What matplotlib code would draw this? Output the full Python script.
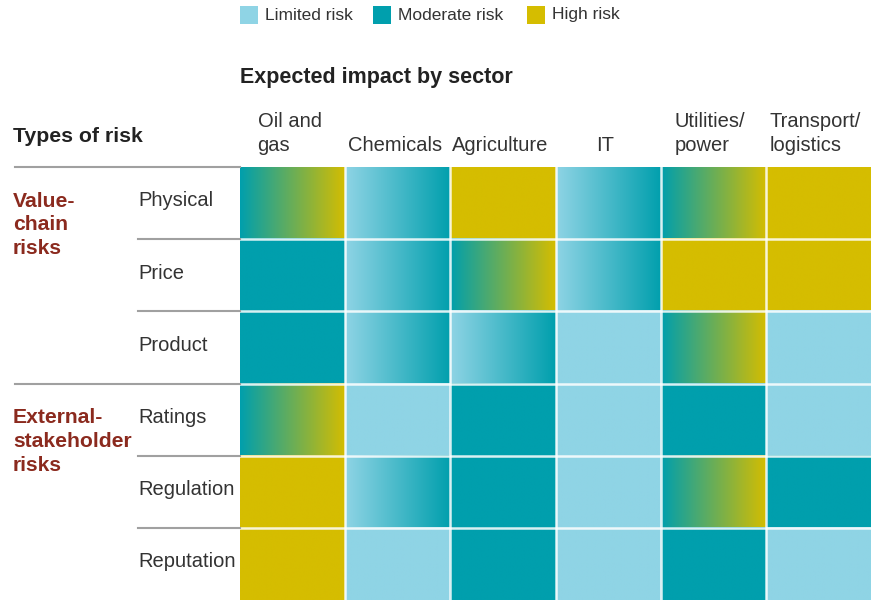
import numpy as np
import matplotlib
matplotlib.use("Agg")
import matplotlib.pyplot as plt
from matplotlib.patches import Rectangle

plt.rcParams['font.family'] = ['Liberation Sans', 'DejaVu Sans']

sectors = ["Oil and\ngas", "Chemicals", "Agriculture", "IT", "Utilities/\npower", "Transport/\nlogistics"]
risks = ["Physical", "Price", "Product", "Ratings", "Regulation", "Reputation"]
groups = ["Value-\nchain\nrisks", "External-\nstakeholder\nrisks"]
group_rows = [0, 3]
level_names = ["Limited risk", "Moderate risk", "High risk"]
level_colors = ["#8fd4e5", "#009fad", "#d5bd00"]

# risk level at left / right edge of each cell (0 limited, 1 moderate, 2 high)
start_level = [
    [1, 0, 2, 0, 1, 2],
    [1, 0, 1, 0, 2, 2],
    [1, 0, 0, 0, 1, 0],
    [1, 0, 1, 0, 1, 0],
    [2, 0, 1, 0, 1, 1],
    [2, 0, 1, 0, 1, 0],
]
end_level = [
    [2, 1, 2, 1, 2, 2],
    [1, 1, 2, 1, 2, 2],
    [1, 1, 1, 0, 2, 0],
    [2, 0, 1, 0, 1, 0],
    [2, 1, 1, 0, 2, 1],
    [2, 0, 1, 0, 1, 0],
]

W, H = 871, 600
fig = plt.figure(figsize=(W / 100, H / 100), dpi=100)

def fx(x):
    return x / W

def fy(y):
    return 1 - y / H

# grid axes
x0, y0 = 240, 167
ax = fig.add_axes([fx(x0), 0, (W - x0) / W, (H - y0) / H])
rgb = np.array([matplotlib.colors.to_rgb(c) for c in level_colors])
t = np.linspace(0, 1, 200)
nr, nc = len(risks), len(sectors)
for i in range(nr):
    for j in range(nc):
        a = rgb[start_level[i][j]]
        b = rgb[end_level[i][j]]
        cell = a[None, :] * (1 - t[:, None]) + b[None, :] * t[:, None]
        ax.imshow(cell[None, :, :], extent=[j, j + 1, i + 1, i], aspect='auto',
                  interpolation='bilinear')
for k in range(1, nc):
    ax.axvline(k, color='white', lw=1.8, alpha=0.85)
for k in range(1, nr):
    ax.axhline(k, color='white', lw=1.8, alpha=0.85)
ax.set_xlim(0, nc)
ax.set_ylim(nr, 0)
ax.axis('off')

colw = (W - x0) / nc
def dx(px):
    return (px - x0) / colw

txt = '#333333'
# row labels and separator lines
for i, r in enumerate(risks):
    ax.text(dx(138), i + 0.47, r, ha='left', va='center', fontsize=14.5, color=txt)
    left = dx(15) if i in group_rows else dx(138)
    ax.plot([left, 0], [i, i], color='#a0a0a0', lw=1.5, clip_on=False)

for g, r in zip(groups, group_rows):
    ax.text(dx(13), r + 0.34, g, ha='left', va='top', fontsize=15.2, fontweight='bold',
            color='#8b2a1e', linespacing=1.33)

# column headers
for j, s in enumerate(sectors):
    fig.text(fx(x0 + (j + 0.5) * colw - 3), fy(155), s, ha='center', va='bottom',
             multialignment='left', fontsize=14.5, color=txt, linespacing=1.32)

fig.text(fx(13), fy(136), "Types of risk", ha='left', va='center', fontsize=15.3,
         fontweight='bold', color='#222222')
fig.text(fx(240), fy(77), "Expected impact by sector", ha='left', va='center', fontsize=15.5,
         fontweight='bold', color='#222222')

# legend
leg_x = [240, 373, 527]
for lx, name, c in zip(leg_x, level_names, level_colors):
    fig.patches.append(Rectangle((fx(lx), fy(24)), 18 / W, 18 / H, transform=fig.transFigure,
                                 facecolor=c, edgecolor='none'))
    fig.text(fx(lx + 25), fy(15), name, ha='left', va='center', fontsize=12.5, color=txt)

fig.savefig("out.png", dpi=100)
